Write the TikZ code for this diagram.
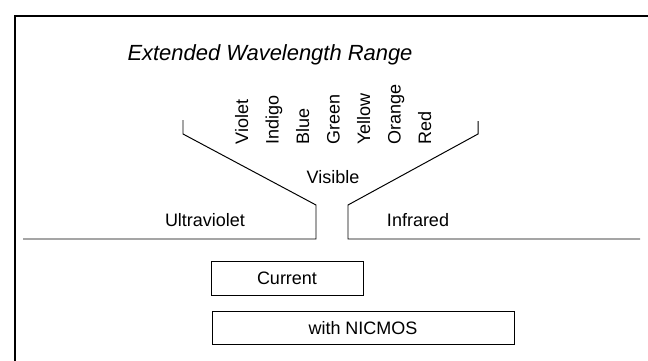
\documentclass[tikz,border=0pt]{standalone}
\usepackage{fontspec}
\setmainfont{Liberation Sans}
\begin{document}
\begin{tikzpicture}[line width=0.7pt,
    txt/.style={font=\fontsize{12.8}{15}\selectfont, inner sep=0pt},
    colour/.style={txt, rotate=90, anchor=base west},
    rangebox/.style={draw, txt, minimum height=0.83cm}]
    \useasboundingbox (0,0) rectangle (16.2,9);
    \draw[line width=1pt] (0.375,-0.5) -- (0.375,8.6) -- (16.7,8.6);
    \node (title) at (6.75,7.625) {\fontsize{15.6}{18}\selectfont\itshape Extended Wavelength Range};
    % funnel
    \coordinate (uvend) at (0.575,3.025);
    \coordinate (uvfoot) at (7.9,3.025);
    \coordinate (uvneck) at (7.9,3.875);
    \coordinate (uvlip) at (4.575,5.65);
    \coordinate (uvtop) at (4.575,6.0);
    \coordinate (irend) at (16.0,3.025);
    \coordinate (irfoot) at (8.7,3.025);
    \coordinate (irneck) at (8.7,3.875);
    \coordinate (irlip) at (11.95,5.65);
    \coordinate (irtop) at (11.95,5.975);
    \draw (uvend) -- (uvfoot) -- (uvneck) -- (uvlip) -- (uvtop);
    \draw (irend) -- (irfoot) -- (irneck) -- (irlip) -- (irtop);
    \node[txt] (uv) at (5.125,3.5) {Ultraviolet};
    \node[txt] (ir) at (10.45,3.5) {Infrared};
    \node[txt] (visible) at (8.325,4.575) {Visible};
    \node[colour] (violet) at (6.2,5.375) {Violet};
    \node[colour] (indigo) at (6.9625,5.375) {Indigo};
    \node[colour] (blue) at (7.725,5.375) {Blue};
    \node[colour] (green) at (8.4875,5.375) {Green};
    \node[colour] (yellow) at (9.25,5.375) {Yellow};
    \node[colour] (orange) at (10.0125,5.375) {Orange};
    \node[colour] (red) at (10.775,5.375) {Red};
    % ranges
    \node[rangebox, minimum width=3.8cm] (current) at (7.175,2.0375) {Current};
    \node[rangebox, minimum width=7.55cm] (nicmos) at (9.075,0.8) {with NICMOS};
\end{tikzpicture}
\end{document}
